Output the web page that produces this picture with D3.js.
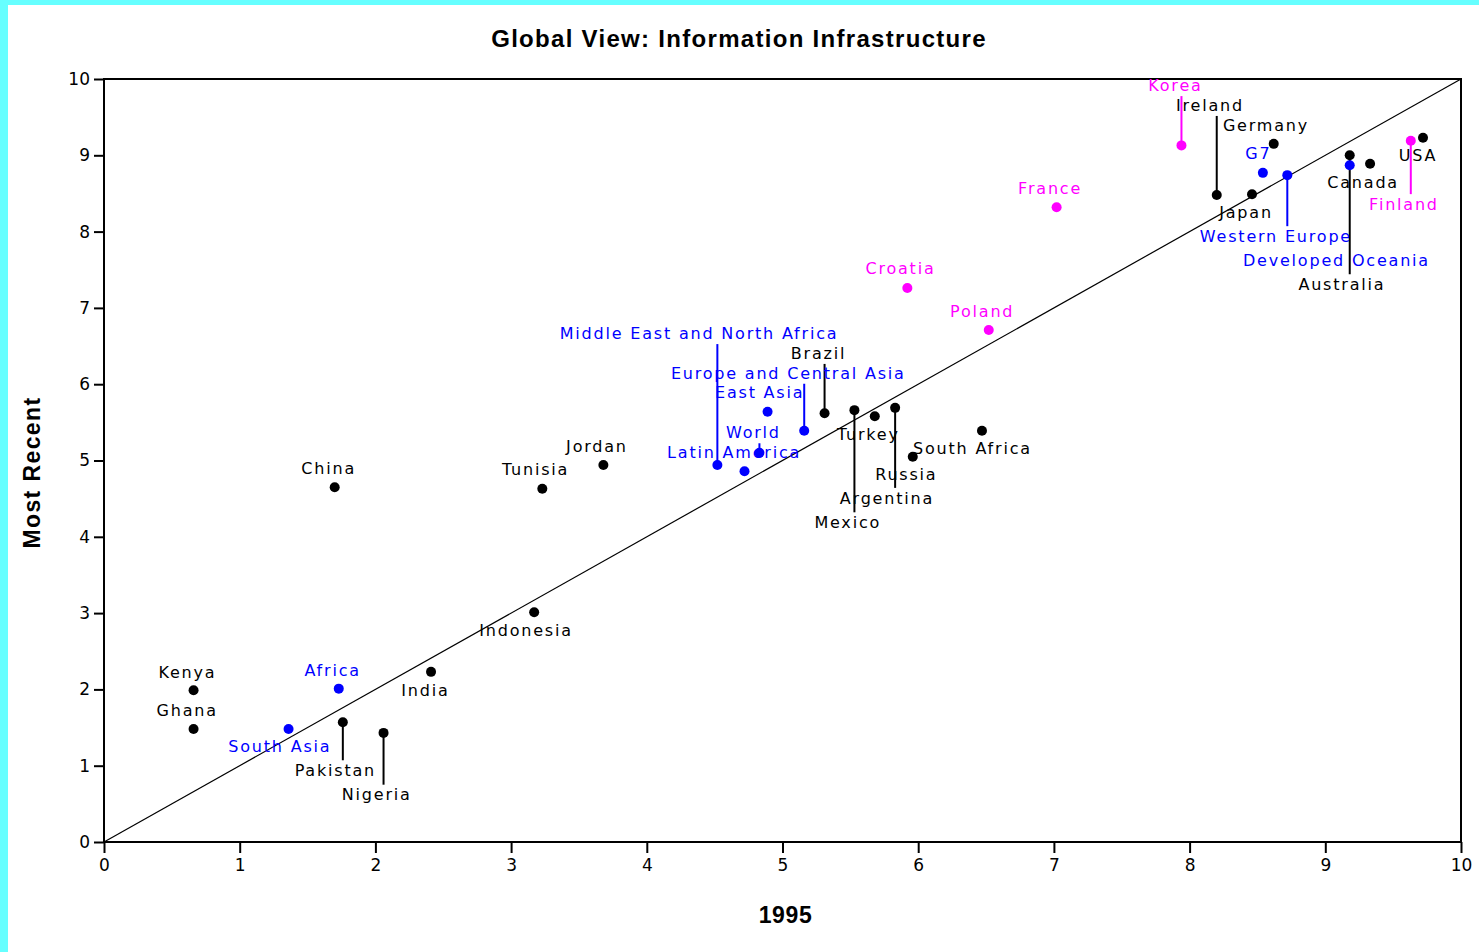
<!DOCTYPE html>
<html>
<head>
<meta charset="utf-8">
<script src="https://cdn.jsdelivr.net/npm/d3@7"></script>
<style>
  body { margin: 0; background: #fff; }
  svg { display: block; }
</style>
</head>
<body>
<div id="chart"></div>
<script>
(function() {
  // values
  var names = ["Kenya", "Ghana", "China", "Pakistan", "Nigeria", "India", "Indonesia", "Tunisia", "Jordan",
    "Brazil", "Mexico", "Turkey", "Argentina", "Russia", "South Africa", "Ireland", "Japan", "Germany",
    "Australia", "Canada", "USA",
    "South Asia", "Africa", "Middle East and North Africa", "Latin America", "World", "East Asia",
    "Europe and Central Asia", "G7", "Western Europe", "Developed Oceania",
    "Korea", "France", "Croatia", "Poland", "Finland"];
  var x1995 = [0.66, 0.66, 1.70, 1.76, 2.06, 2.41, 3.17, 3.23, 3.68,
    5.31, 5.53, 5.68, 5.83, 5.96, 6.47, 8.20, 8.46, 8.62,
    9.18, 9.33, 9.72,
    1.36, 1.73, 4.52, 4.72, 4.83, 4.89,
    5.16, 8.54, 8.72, 9.18,
    7.94, 7.02, 5.92, 6.52, 9.63];
  var mostRecent = [1.99, 1.48, 4.65, 1.57, 1.43, 2.23, 3.01, 4.63, 4.94,
    5.62, 5.66, 5.58, 5.69, 5.05, 5.39, 8.48, 8.49, 9.15,
    9.00, 8.89, 9.23,
    1.48, 2.01, 4.94, 4.86, 5.10, 5.64,
    5.39, 8.77, 8.74, 8.87,
    9.13, 8.32, 7.26, 6.71, 9.19];
  // c = country, r = region, h = highlighted country
  var groups = ["c", "c", "c", "c", "c", "c", "c", "c", "c",
    "c", "c", "c", "c", "c", "c", "c", "c", "c",
    "c", "c", "c",
    "r", "r", "r", "r", "r", "r",
    "r", "r", "r", "r",
    "h", "h", "h", "h", "h"];
  // where the label sits, in "Most Recent" units, and whether a leader line joins it
  var labelAt = [2.23, 1.73, 4.90, 0.94, 0.62, 1.99, 2.78, 4.88, 5.19,
    6.41, 4.19, 5.35, 4.51, 4.82, 5.16, 9.66, 8.26, 9.40,
    7.31, 8.65, 9.00,
    1.26, 2.25, 6.67, 5.11, 5.37, 5.89,
    6.15, 9.03, 7.94, 7.63,
    9.92, 8.57, 7.52, 6.96, 8.36];
  var leaders = [0, 0, 0, 1, 1, 0, 0, 0, 0,
    1, 1, 0, 1, 0, 0, 1, 0, 0,
    1, 0, 0,
    0, 0, 1, 0, 1, 0,
    1, 0, 1, 0,
    1, 0, 0, 0, 1];
  var ticks = [0, 1, 2, 3, 4, 5, 6, 7, 8, 9, 10];

  var colors = { c: "#000000", r: "#0000ff", h: "#ff00ff" };

  var W = 1479, H = 952;
  var margin = { top: 79, left: 104, right: 18, bottom: 110 },
    width = W - margin.left - margin.right,
    height = H - margin.top - margin.bottom;

  var svg = d3.select("#chart")
    .append("svg")
    .attr("width", W)
    .attr("height", H);

  // cyan frame strips
  svg.append("rect").attr("x", 0).attr("y", 0).attr("width", W).attr("height", 5).attr("fill", "#66ffff");
  svg.append("rect").attr("x", 0).attr("y", 0).attr("width", 8).attr("height", H).attr("fill", "#66ffff");

  var g = svg.append("g")
    .attr("transform", "translate(" + margin.left + "," + margin.top + ")");

  var x = d3.scaleLinear().domain([0, 10]).range([0, width]);
  var y = d3.scaleLinear().domain([0, 10]).range([height, 0]);

  var font = "'DejaVu Sans', sans-serif";
  var boldFont = "'Liberation Sans', Arial, sans-serif";

  var xAxis = g.append("g")
    .attr("transform", "translate(0," + height + ")")
    .call(d3.axisBottom(x).tickValues(ticks).tickFormat(d3.format("d")).tickSize(11).tickPadding(6));
  var yAxis = g.append("g")
    .call(d3.axisLeft(y).tickValues(ticks).tickFormat(d3.format("d")).tickSize(10).tickPadding(4));

  [xAxis, yAxis].forEach(function(a) {
    a.select(".domain").remove();
    a.selectAll("line").attr("stroke", "#000").attr("stroke-width", 2);
    a.selectAll("text").attr("fill", "#000").style("font-family", font).style("font-size", "17px");
  });

  // box around the plot
  g.append("rect")
    .attr("x", 0).attr("y", 0)
    .attr("width", width).attr("height", height)
    .attr("fill", "none").attr("stroke", "#000").attr("stroke-width", 2);

  // diagonal reference line
  g.append("line")
    .attr("x1", x(0)).attr("y1", y(0))
    .attr("x2", x(10)).attr("y2", y(10))
    .attr("stroke", "#000").attr("stroke-width", 1.2);

  var data = names.map(function(n, i) {
    return { name: n, x: x1995[i], y: mostRecent[i], group: groups[i], ly: labelAt[i], leader: leaders[i] };
  });

  // leader lines
  g.selectAll(".leader")
    .data(data.filter(function(d) { return d.leader; }))
    .enter().append("line")
    .attr("class", "leader")
    .attr("x1", function(d) { return x(d.x); })
    .attr("x2", function(d) { return x(d.x); })
    .attr("y1", function(d) { return y(d.y); })
    .attr("y2", function(d) {
      return d.ly > d.y ? y(d.ly) + 11 : y(d.ly) - 10;
    })
    .attr("stroke", function(d) { return colors[d.group]; })
    .attr("stroke-width", 2);

  // dots
  g.selectAll(".dot")
    .data(data)
    .enter().append("circle")
    .attr("class", "dot")
    .attr("cx", function(d) { return x(d.x); })
    .attr("cy", function(d) { return y(d.y); })
    .attr("r", 5)
    .attr("fill", function(d) { return colors[d.group]; });

  // labels
  var labels = g.selectAll(".label")
    .data(data)
    .enter().append("text")
    .attr("class", "label")
    .attr("y", function(d) { return y(d.ly); })
    .attr("dy", "0.36em")
    .attr("text-anchor", "middle")
    .style("font-family", font)
    .style("font-size", "16px")
    .style("letter-spacing", "1.8px")
    .attr("fill", function(d) { return colors[d.group]; })
    .text(function(d) { return d.name; });

  // labels come out a little left of their point, more so for long ones
  labels.attr("x", function(d) {
    var w = this.getComputedTextLength();
    return x(d.x) - (3 + 0.055 * w);
  });

  // titles
  svg.append("text")
    .attr("x", 739).attr("y", 47)
    .attr("text-anchor", "middle")
    .style("font-family", boldFont)
    .style("font-weight", "bold")
    .style("font-size", "24px")
    .style("letter-spacing", "1.3px")
    .text("Global View: Information Infrastructure");

  svg.append("text")
    .attr("x", margin.left + width / 2 + 3).attr("y", 923)
    .attr("text-anchor", "middle")
    .style("font-family", boldFont)
    .style("font-weight", "bold")
    .style("font-size", "23px")
    .style("letter-spacing", "0.6px")
    .text("1995");

  svg.append("text")
    .attr("transform", "translate(40," + (margin.top + height / 2 + 12) + ") rotate(-90)")
    .attr("text-anchor", "middle")
    .style("font-family", boldFont)
    .style("font-weight", "bold")
    .style("font-size", "23px")
    .style("letter-spacing", "1.4px")
    .text("Most Recent");
})();
</script>
</body>
</html>
